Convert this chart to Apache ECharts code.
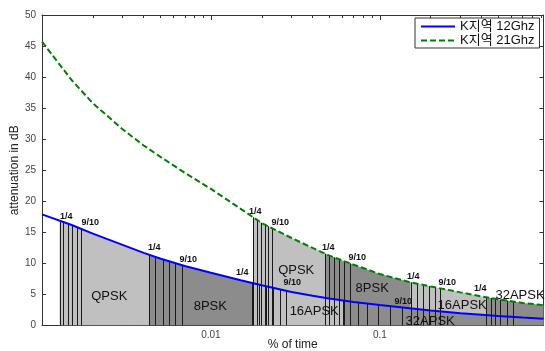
<!DOCTYPE html>
<html><head><meta charset="utf-8">
<script src="https://cdn.jsdelivr.net/npm/echarts@6/dist/echarts.min.js"></script>
<style>html,body{margin:0;padding:0;background:#fff}#c{width:545px;height:351px}</style>
</head><body><div id="c"></div>
<script>
// ---- data ----
const timePct = [0.001,0.0015,0.002,0.003,0.004,0.005,0.007,0.01,0.015,0.02,0.03,0.04,0.05,0.07,0.1,0.15,0.2,0.3,0.4,0.5,0.7,0.93];
const att12 = [17.9,16.2,14.8,13.0,11.7,10.8,9.6,8.5,7.3,6.5,5.4,4.8,4.35,3.8,3.3,2.8,2.45,2.0,1.75,1.55,1.3,1.1];
const att21 = [45.7,39.5,35.8,31.6,29.0,27.2,24.6,22.0,18.8,16.5,14.1,12.5,11.3,9.8,8.3,7.0,6.3,5.35,4.7,4.25,3.65,3.3];
const seriesNames = ['K지역 12Ghz','K지역 21Ghz'];
const modNames = ['QPSK','8PSK','16APSK','32APSK'];
// modulation regions (start, end in % of time)
const regions12 = [[0.00127,0.00432],[0.00432,0.01755],[0.01755,0.0607],[0.0607,0.93]];
const regions21 = [[0.0178,0.0475],[0.0475,0.1521],[0.1521,0.4256],[0.4256,0.93]];
// code-rate thresholds (1/4 ... 9/10) in each region
const rates12 = [[0.00127,0.00134,0.00143,0.00151,0.00162,0.00171],[0.00432,0.00468,0.0052,0.00567,0.00615,0.00674],[0.01755,0.01931,0.02125,0.02337,0.02571,0.0279],[0.0607,0.0667,0.0744,0.0841,0.0977,0.1151,0.1355]];
const rates21 = [[0.0178,0.0188,0.01985,0.02096,0.02183,0.02305],[0.0475,0.0501,0.0537,0.0575,0.0615,0.0667],[0.1521,0.1651,0.1792,0.1945,0.211,0.2275],[0.4256,0.4539,0.4811,0.5151,0.5643,0.6124]];
// axis ticks
const xMajorTicks = [0.01,0.1];
const xMinorTicks = [0.002,0.003,0.004,0.005,0.006,0.007,0.008,0.009,0.02,0.03,0.04,0.05,0.06,0.07,0.08,0.09,0.2,0.3,0.4,0.5,0.6,0.7,0.8,0.9];
const xMin = 0.001, xMax = 0.93;
// annotations
const rateTexts = ['1/4','9/10','1/4','9/10','1/4','9/10','9/10','1/4','9/10','1/4','9/10','1/4','9/10','1/4'];
const rateAt = [[0.001393,17.53],[0.001931,16.56],[0.004619,12.49],[0.007338,10.56],[0.01532,8.47],[0.03028,6.86],[0.1374,3.85],[0.01829,18.34],[0.02571,16.52],[0.04945,12.49],[0.07339,10.88],[0.1574,7.87],[0.2501,6.86],[0.3924,5.89]];
const modTexts = ['QPSK','8PSK','16APSK','32APSK','QPSK','8PSK','16APSK','32APSK'];
const modAt = [[0.002501,4.65],[0.00991,3.04],[0.04085,2.24],[0.1984,0.63],[0.03197,8.95],[0.09006,6.05],[0.3069,3.32],[0.675,4.93]];

const FONT = '"Liberation Sans", Arial, "Noto Sans CJK KR", sans-serif';
const LIGHT = '#c0c0c0', DARK = '#8c8c8c';
const curves = [att12, att21];

function curvePx(api, att) { return timePct.map((p, i) => api.coord([p, att[i]])); }
function yAt(px, x) {
  for (let i = 0; i < px.length - 1; i++) {
    const a = px[i], b = px[i + 1];
    if (x >= a[0] - 1e-6 && x <= b[0] + 1e-6) {
      const t = (x - a[0]) / (b[0] - a[0]);
      return a[1] + t * (b[1] - a[1]);
    }
  }
  return px[px.length - 1][1];
}

function fillData(regs, ci) { return regs.map((r, k) => [r[0], r[1], ci, k]); }
function lineData(rates, ci) { const out = []; rates.forEach(g => g.forEach(p => out.push([p, ci]))); return out; }

function fillRender(params, api) {
  const p0 = api.value(0), p1 = api.value(1), ci = api.value(2), k = api.value(3);
  const px = curvePx(api, curves[ci]);
  const x0 = api.coord([p0, 0])[0], x1 = api.coord([p1, 0])[0], yb = api.coord([p0, 0])[1];
  const pts = [[x0, yb], [x0, yAt(px, x0)]];
  px.forEach(pt => { if (pt[0] > x0 && pt[0] < x1) pts.push(pt); });
  pts.push([x1, yAt(px, x1)], [x1, yb]);
  return { type: 'polygon', shape: { points: pts }, style: { fill: (k % 2) ? DARK : LIGHT, stroke: null } };
}
function lineRender(params, api) {
  const p = api.value(0), ci = api.value(1);
  const px = curvePx(api, curves[ci]);
  const xr = api.coord([p, 0])[0];
  const x = Math.round(xr) + 0.5;
  const yb = api.coord([p, 0])[1];
  return { type: 'line', shape: { x1: x, y1: yAt(px, xr), x2: x, y2: yb }, style: { stroke: '#1a1a1a', lineWidth: 1 } };
}
function textRender(texts, font) {
  return function (params, api) {
    const c = api.coord([api.value(0), api.value(1)]);
    return { type: 'text', x: c[0], y: c[1], style: { text: texts[params.dataIndex], font: font, fill: '#111', align: 'center', verticalAlign: 'middle' } };
  };
}

const axisColor = '#333';
function xAxisDef(pos, ticks, len, showLine, showLabel) {
  return {
    type: 'log', logBase: 10, min: xMin, max: xMax, position: pos,
    axisLine: { show: showLine, onZero: false, lineStyle: { color: axisColor, width: 1 } },
    axisTick: { show: true, inside: true, length: len, customValues: ticks, lineStyle: { color: axisColor } },
    axisLabel: showLabel ? { show: true, customValues: xMajorTicks, formatter: v => String(+(+v).toPrecision(6)), margin: 5, fontSize: 10, color: '#444', fontFamily: FONT } : { show: false },
    splitLine: { show: false }, minorTick: { show: false }
  };
}
const xBottom = xAxisDef('bottom', xMajorTicks, 5, true, true);
xBottom.name = '% of time'; xBottom.nameLocation = 'middle'; xBottom.nameGap = 13; xBottom.nameMoveOverlap = false;
xBottom.nameTextStyle = { fontSize: 12, color: '#222', fontFamily: FONT };

const chart = echarts.init(document.getElementById('c'), null, { renderer: 'canvas' });
chart.setOption({
  animation: false,
  backgroundColor: '#fff',
  grid: { left: 42, right: 1.5, top: 15, bottom: 25.4, containLabel: false, outerBoundsMode: 'none' },
  legend: {
    orient: 'vertical', left: 415, top: 18, itemWidth: 34, itemHeight: 12, itemGap: 1,
    padding: [2, 5, 1, 5], borderColor: '#333', borderWidth: 1, backgroundColor: '#fff',
    itemStyle: { opacity: 0 },
    textStyle: { fontSize: 13, color: '#111', fontFamily: FONT },
    data: seriesNames
  },
  xAxis: [xBottom, xAxisDef('bottom', xMinorTicks, 3, false, false), xAxisDef('top', xMajorTicks, 5, true, false), xAxisDef('top', xMinorTicks, 3, false, false)],
  yAxis: [
    { type: 'value', min: 0, max: 50, interval: 5, position: 'left',
      axisLine: { show: true, lineStyle: { color: axisColor } },
      axisTick: { show: true, inside: true, length: 4, lineStyle: { color: axisColor } },
      axisLabel: { fontSize: 10, color: '#444', margin: 6, fontFamily: FONT },
      splitLine: { show: false },
      name: 'attenuation in dB', nameLocation: 'middle', nameGap: 21, nameRotate: 90, nameMoveOverlap: false,
      nameTextStyle: { fontSize: 12, color: '#222', fontFamily: FONT } },
    { type: 'value', min: 0, max: 50, interval: 5, position: 'right',
      axisLine: { show: true, lineStyle: { color: axisColor } },
      axisTick: { show: true, inside: true, length: 4, lineStyle: { color: axisColor } },
      axisLabel: { show: false }, splitLine: { show: false } }
  ],
  series: [
    { type: 'custom', name: 'fill21', renderItem: fillRender, data: fillData(regions21, 1), z: 1, silent: true, clip: true },
    { type: 'custom', name: 'fill12', renderItem: fillRender, data: fillData(regions12, 0), z: 2, silent: true, clip: true },
    { type: 'custom', name: 'rates', renderItem: lineRender, data: lineData(rates21, 1).concat(lineData(rates12, 0)), z: 3, silent: true, clip: true },
    { type: 'custom', name: 'rateLabels', renderItem: textRender(rateTexts, 'bold 9px ' + FONT), data: rateAt, z: 4, silent: true },
    { type: 'custom', name: 'modLabels', renderItem: textRender(modTexts, '13px ' + FONT), data: modAt, z: 4, silent: true },
    { type: 'line', name: seriesNames[0], data: timePct.map((p, i) => [p, att12[i]]), symbol: 'none', showSymbol: false,
      lineStyle: { color: '#0000ff', width: 2 }, itemStyle: { color: '#0000ff' }, z: 10 },
    { type: 'line', name: seriesNames[1], data: timePct.map((p, i) => [p, att21[i]]), symbol: 'none', showSymbol: false,
      lineStyle: { color: '#008000', width: 2, type: [6, 3] }, itemStyle: { color: '#008000' }, z: 10 }
  ]
});
</script></body></html>
